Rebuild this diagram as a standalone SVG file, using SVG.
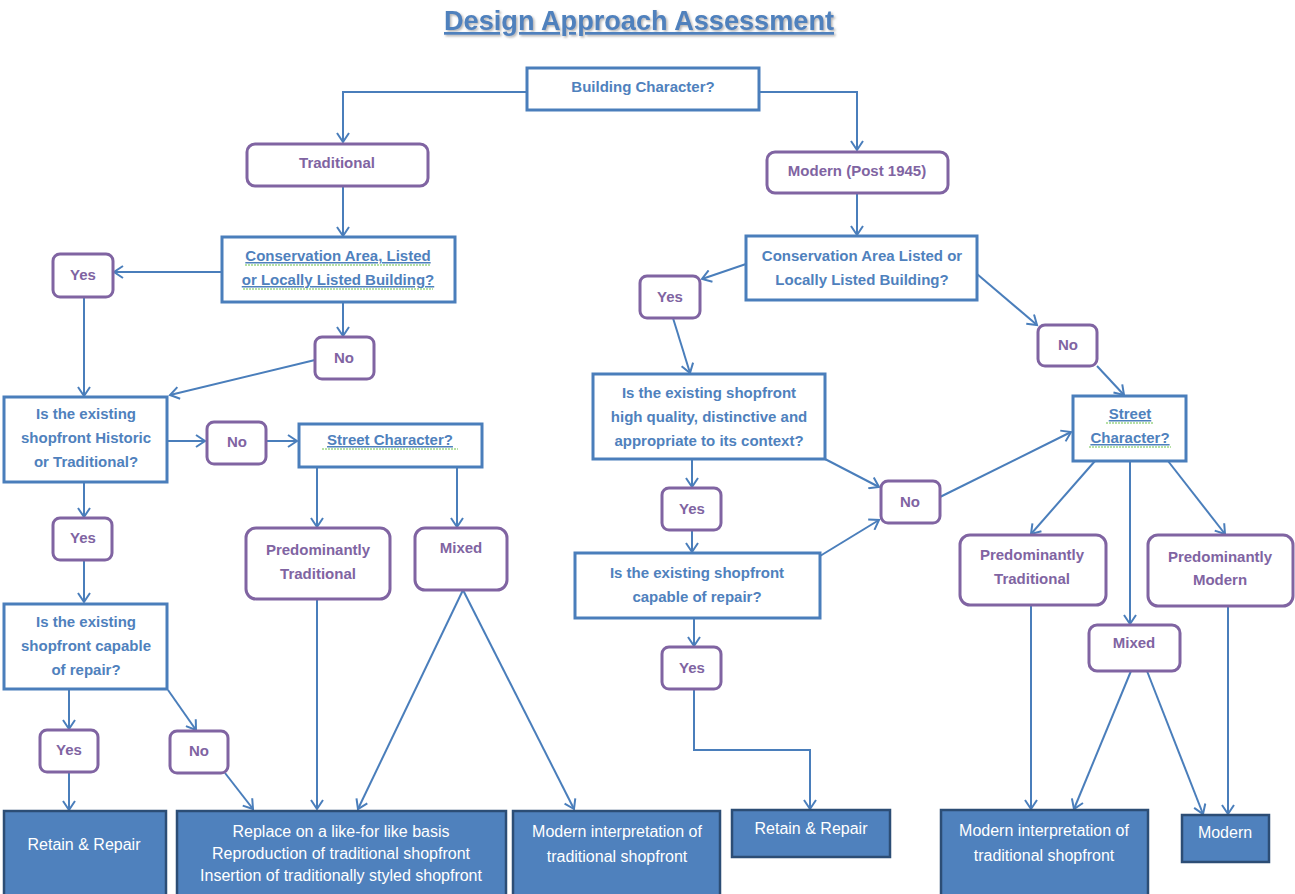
<svg xmlns="http://www.w3.org/2000/svg" width="1295" height="894" viewBox="0 0 1295 894">
<defs>
<marker id="arr" markerUnits="userSpaceOnUse" markerWidth="14" markerHeight="14" refX="11" refY="7" orient="auto">
<path d="M2,1 L11,7 L2,13" fill="none" stroke="#4a7ebb" stroke-width="2"/>
</marker>
<filter id="sh" x="-5%" y="-20%" width="110%" height="150%">
<feDropShadow dx="1.5" dy="1.5" stdDeviation="1" flood-color="#7a7a7a" flood-opacity="0.6"/>
</filter>
</defs>
<style>
.q{fill:#fff;stroke:#4a7ebb;stroke-width:3}
.r{fill:#fff;stroke:#8064a2;stroke-width:3}
.o{fill:#4f81bd;stroke:#2c4d75;stroke-width:2.5}
.c{fill:none;stroke:#4a7ebb;stroke-width:2;marker-end:url(#arr)}
text{font-family:"Liberation Sans",Arial,sans-serif;text-anchor:middle}
.tq{fill:#4f81bd;font-weight:bold;font-size:15px}
.tr{fill:#8064a2;font-weight:bold;font-size:15px}
.to{fill:#fff;font-size:16px}
.u{text-decoration:underline}
.sp{fill:none;stroke:#6cc24a;stroke-width:1;stroke-dasharray:2,1}
</style>
<rect width="1295" height="894" fill="#fff"/>
<text x="639" y="30" font-size="27" font-weight="bold" fill="#4f81bd" text-decoration="underline" textLength="390" lengthAdjust="spacingAndGlyphs" filter="url(#sh)">Design Approach Assessment</text>

<g id="connectors">
<polyline class="c" points="527,92 343,92 343,142"/>
<polyline class="c" points="759,92 857,92 857,150"/>
<line class="c" x1="343" y1="186" x2="343" y2="236"/>
<line class="c" x1="222" y1="272" x2="114" y2="272"/>
<line class="c" x1="84" y1="297" x2="84" y2="396"/>
<line class="c" x1="343" y1="302" x2="343" y2="336"/>
<line class="c" x1="315" y1="360" x2="170" y2="395"/>
<line class="c" x1="167" y1="441" x2="205" y2="441"/>
<line class="c" x1="266" y1="441" x2="297" y2="441"/>
<line class="c" x1="84" y1="482" x2="84" y2="517"/>
<line class="c" x1="84" y1="560" x2="84" y2="602"/>
<line class="c" x1="69" y1="689" x2="69" y2="729"/>
<line class="c" x1="168" y1="690" x2="196" y2="730"/>
<line class="c" x1="69" y1="772" x2="69" y2="810"/>
<line class="c" x1="225" y1="773" x2="253" y2="809"/>
<line class="c" x1="317" y1="467" x2="317" y2="527"/>
<line class="c" x1="457" y1="467" x2="457" y2="527"/>
<line class="c" x1="317" y1="599" x2="317" y2="809"/>
<line class="c" x1="463" y1="590" x2="358" y2="809"/>
<line class="c" x1="463" y1="590" x2="574" y2="809"/>

<line class="c" x1="857" y1="193" x2="857" y2="235"/>
<line class="c" x1="746" y1="264" x2="702" y2="279"/>
<line class="c" x1="673" y1="318" x2="690" y2="373"/>
<line class="c" x1="977" y1="274" x2="1037" y2="325"/>
<line class="c" x1="1097" y1="366" x2="1124" y2="395"/>
<line class="c" x1="692" y1="459" x2="692" y2="487"/>
<line class="c" x1="692" y1="530" x2="692" y2="552"/>
<line class="c" x1="825" y1="459" x2="879" y2="487"/>
<line class="c" x1="820" y1="556" x2="879" y2="520"/>
<line class="c" x1="940" y1="497" x2="1071" y2="432"/>
<line class="c" x1="694" y1="618" x2="694" y2="646"/>
<polyline class="c" points="694,689 694,750 810,750 810,809"/>
<line class="c" x1="1095" y1="461" x2="1031" y2="534"/>
<line class="c" x1="1130" y1="461" x2="1130" y2="624"/>
<line class="c" x1="1168" y1="461" x2="1225" y2="534"/>
<line class="c" x1="1031" y1="605" x2="1031" y2="809"/>
<line class="c" x1="1131" y1="671" x2="1074" y2="809"/>
<line class="c" x1="1147" y1="671" x2="1203" y2="814"/>
<line class="c" x1="1228" y1="606" x2="1228" y2="814"/>
</g>

<g id="n-building"><rect class="q" x="527" y="68" width="232" height="42"/><text class="tq" x="643" y="92">Building Character?</text></g>
<g id="n-traditional"><rect class="r" x="247" y="144" width="181" height="42" rx="8"/><text class="tr" x="337" y="168">Traditional</text></g>
<g id="n-modern"><rect class="r" x="767" y="152" width="181" height="41" rx="8"/><text class="tr" x="857" y="176">Modern (Post 1945)</text></g>

<g id="n-cons-l"><rect class="q" x="222" y="237" width="233" height="65"/>
<text class="tq u" x="338" y="261">Conservation Area, Listed</text>
<text class="tq u" x="338" y="285">or Locally Listed Building?</text>
<path class="sp" d="M245,265 H431 M243,289 H433"/></g>
<g id="n-yes-l1"><rect class="r" x="53" y="254" width="60" height="43" rx="7"/><text class="tr" x="83" y="280">Yes</text></g>
<g id="n-no-l1"><rect class="r" x="315" y="337" width="59" height="42" rx="7"/><text class="tr" x="344" y="363">No</text></g>
<g id="n-hist"><rect class="q" x="4" y="397" width="163" height="85"/>
<text class="tq" x="86" y="419">Is the existing</text>
<text class="tq" x="86" y="443">shopfront Historic</text>
<text class="tq" x="86" y="467">or Traditional?</text></g>
<g id="n-no-l2"><rect class="r" x="207" y="422" width="59" height="42" rx="7"/><text class="tr" x="237" y="447">No</text></g>
<g id="n-street-l"><rect class="q" x="299" y="424" width="183" height="43"/><text class="tq u" x="390" y="445">Street Character?</text>
<path class="sp" d="M322,449 H458"/></g>
<g id="n-yes-l2"><rect class="r" x="53" y="518" width="59" height="42" rx="7"/><text class="tr" x="83" y="543">Yes</text></g>
<g id="n-cap-l"><rect class="q" x="4" y="604" width="163" height="85"/>
<text class="tq" x="86" y="627">Is the existing</text>
<text class="tq" x="86" y="651">shopfront capable</text>
<text class="tq" x="86" y="675">of repair?</text></g>
<g id="n-yes-l3"><rect class="r" x="40" y="730" width="58" height="42" rx="7"/><text class="tr" x="69" y="755">Yes</text></g>
<g id="n-no-l3"><rect class="r" x="170" y="731" width="58" height="42" rx="7"/><text class="tr" x="199" y="756">No</text></g>
<g id="n-predtrad-l"><rect class="r" x="246" y="528" width="144" height="71" rx="10"/>
<text class="tr" x="318" y="555">Predominantly</text>
<text class="tr" x="318" y="579">Traditional</text></g>
<g id="n-mixed-l"><rect class="r" x="415" y="528" width="92" height="62" rx="10"/><text class="tr" x="461" y="553">Mixed</text></g>

<g id="n-retain-l"><rect class="o" x="4" y="811" width="162" height="90"/><text class="to" x="84" y="850">Retain &amp; Repair</text></g>
<g id="n-replace"><rect class="o" x="177" y="811" width="329" height="90"/>
<text class="to" x="341" y="837">Replace on a like-for like basis</text>
<text class="to" x="341" y="859">Reproduction of traditional shopfront</text>
<text class="to" x="341" y="881">Insertion of traditionally styled shopfront</text></g>
<g id="n-modint-l"><rect class="o" x="513" y="811" width="207" height="90"/>
<text class="to" x="617" y="837">Modern interpretation of</text>
<text class="to" x="617" y="862">traditional shopfront</text></g>

<g id="n-cons-r"><rect class="q" x="746" y="236" width="231" height="64"/>
<text class="tq" x="862" y="261">Conservation Area Listed or</text>
<text class="tq" x="862" y="285">Locally Listed Building?</text></g>
<g id="n-yes-r1"><rect class="r" x="640" y="276" width="60" height="42" rx="7"/><text class="tr" x="670" y="302">Yes</text></g>
<g id="n-no-r1"><rect class="r" x="1038" y="325" width="59" height="41" rx="7"/><text class="tr" x="1068" y="350">No</text></g>
<g id="n-hq"><rect class="q" x="593" y="374" width="232" height="85"/>
<text class="tq" x="709" y="398">Is the existing shopfront</text>
<text class="tq" x="709" y="422">high quality, distinctive and</text>
<text class="tq" x="709" y="446">appropriate to its context?</text></g>
<g id="n-street-r"><rect class="q" x="1073" y="396" width="113" height="65"/>
<text class="tq u" x="1130" y="419">Street</text>
<text class="tq u" x="1130" y="443">Character?</text>
<path class="sp" d="M1106,423 H1154 M1089,447 H1171"/></g>
<g id="n-yes-r2"><rect class="r" x="662" y="488" width="59" height="42" rx="7"/><text class="tr" x="692" y="514">Yes</text></g>
<g id="n-no-r2"><rect class="r" x="881" y="481" width="59" height="42" rx="7"/><text class="tr" x="910" y="507">No</text></g>
<g id="n-cap-r"><rect class="q" x="575" y="553" width="245" height="65"/>
<text class="tq" x="697" y="578">Is the existing shopfront</text>
<text class="tq" x="697" y="602">capable of repair?</text></g>
<g id="n-yes-r3"><rect class="r" x="662" y="647" width="59" height="42" rx="7"/><text class="tr" x="692" y="673">Yes</text></g>
<g id="n-predtrad-r"><rect class="r" x="960" y="535" width="146" height="70" rx="10"/>
<text class="tr" x="1032" y="560">Predominantly</text>
<text class="tr" x="1032" y="584">Traditional</text></g>
<g id="n-mixed-r"><rect class="r" x="1089" y="625" width="91" height="46" rx="8"/><text class="tr" x="1134" y="648">Mixed</text></g>
<g id="n-predmod-r"><rect class="r" x="1148" y="535" width="145" height="71" rx="10"/>
<text class="tr" x="1220" y="562">Predominantly</text>
<text class="tr" x="1220" y="585">Modern</text></g>

<g id="n-retain-r"><rect class="o" x="732" y="810" width="158" height="47"/><text class="to" x="811" y="834">Retain &amp; Repair</text></g>
<g id="n-modint-r"><rect class="o" x="941" y="810" width="207" height="90"/>
<text class="to" x="1044" y="836">Modern interpretation of</text>
<text class="to" x="1044" y="861">traditional shopfront</text></g>
<g id="n-modern-out"><rect class="o" x="1182" y="815" width="87" height="47"/><text class="to" x="1225" y="838">Modern</text></g>
</svg>
